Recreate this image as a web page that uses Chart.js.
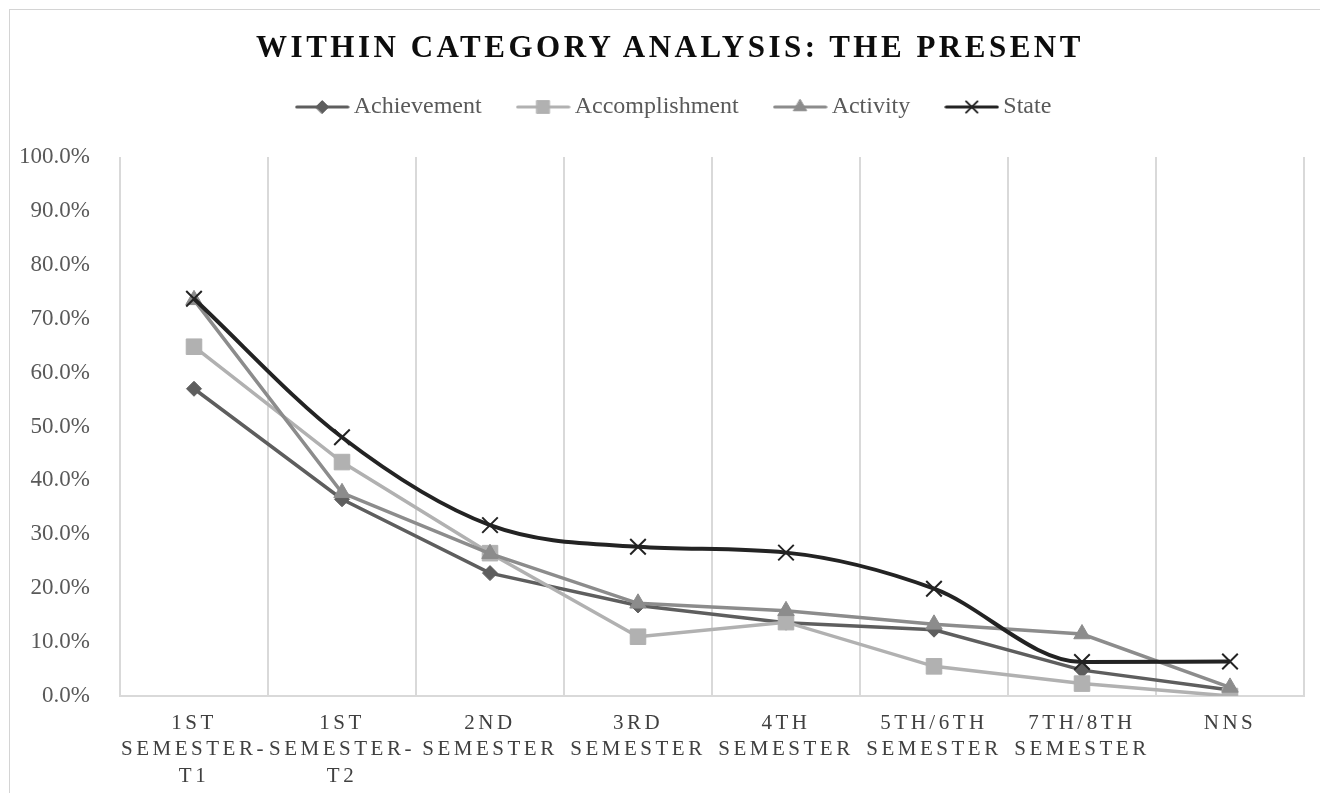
<!DOCTYPE html>
<html>
<head>
<meta charset="utf-8">
<script src="https://cdn.jsdelivr.net/npm/chart.js@4/dist/chart.umd.min.js"></script>
<style>
  html, body { margin: 0; padding: 0; background: #fff; }
  #wrap { position: relative; width: 1320px; height: 793px; overflow: hidden; }
  #frame { position: absolute; left: 9px; top: 9px; width: 1330px; height: 820px; border: 1px solid #d4d4d4; box-sizing: border-box; }
  #title { position: absolute; left: 18px; top: 27px; width: 1304px; text-align: center;
    font: bold 31px "Liberation Serif", "Times New Roman", serif; line-height: 40px;
    letter-spacing: 3.5px; color: #0d0d0d; }
  canvas { position: absolute; left: 0; top: 0; }
</style>
</head>
<body>
<div id="wrap">
  <div id="frame"></div>
  <canvas id="chart" width="1320" height="793"></canvas>
  <div id="title">WITHIN CATEGORY ANALYSIS: THE PRESENT</div>
</div>
<script>
const categories = [
  ['1ST', 'SEMESTER-', 'T1'],
  ['1ST', 'SEMESTER-', 'T2'],
  ['2ND', 'SEMESTER'],
  ['3RD', 'SEMESTER'],
  ['4TH', 'SEMESTER'],
  ['5TH/6TH', 'SEMESTER'],
  ['7TH/8TH', 'SEMESTER'],
  ['NNS']
]
const achievement = [57.0, 36.5, 22.8, 16.8, 13.6, 12.3, 4.8, 1.1]
const accomplishment = [64.8, 43.4, 26.5, 11.0, 13.7, 5.5, 2.3, 0.0]
const activity = [73.5, 37.7, 26.4, 17.2, 15.8, 13.3, 11.5, 1.6]
const state = [73.7, 48.0, 31.7, 27.7, 26.6, 19.9, 6.3, 6.4]
const yTicks = [0, 10, 20, 30, 40, 50, 60, 70, 80, 90, 100]

const serif = '"Liberation Serif", "Times New Roman", serif'

// x軸ラベルに字間を付けるためのカテゴリ軸
class SpacedCategory extends Chart.CategoryScale {
  static id = 'spacedCategory'
  drawLabels(area) {
    const ctx = this.ctx
    ctx.save()
    ctx.letterSpacing = '3.5px'
    super.drawLabels(area)
    ctx.restore()
  }
}
Chart.register(SpacedCategory)

// 凡例用アイコン（線＋マーカー）
function legendIcon(color, style, r, bw) {
  const c = document.createElement('canvas')
  c.width = 55
  c.height = 22
  const ctx = c.getContext('2d')
  ctx.strokeStyle = color
  ctx.fillStyle = color
  ctx.lineWidth = 3.2
  ctx.lineCap = 'round'
  ctx.beginPath()
  ctx.moveTo(2, 11)
  ctx.lineTo(53, 11)
  ctx.stroke()
  ctx.lineWidth = bw
  Chart.helpers.drawPoint(ctx, { pointStyle: style, radius: r, borderWidth: bw, rotation: 0 }, 27.5, 11)
  return c
}

const series = [
  { label: 'Achievement', data: achievement, color: '#5e5e5e', style: 'rectRot', r: 7.5, lr: 6.5, bw: 1, width: 3.5, order: 4 },
  { label: 'Accomplishment', data: accomplishment, color: '#b1b1b1', style: 'rect', r: 11, lr: 9, bw: 1, width: 3.5, order: 3 },
  { label: 'Activity', data: activity, color: '#8c8c8c', style: 'triangle', r: 9.5, lr: 7.5, bw: 1, width: 3.5, order: 2 },
  { label: 'State', data: state, color: '#232323', style: 'crossRot', r: 11, lr: 8, bw: 2, width: 4, order: 1, smooth: true }
]

// 凡例の下に余白を足し、少し右へずらす
const legendSpacer = {
  id: 'legendSpacer',
  beforeInit(chart) {
    const fit = chart.legend.fit
    chart.legend.fit = function () {
      fit.call(this)
      this.height += 28
    }
    const draw = chart.legend.draw
    chart.legend.draw = function () {
      const ctx = this.ctx
      ctx.save()
      ctx.translate(20, 0)
      draw.call(this)
      ctx.restore()
    }
  }
}

new Chart(document.getElementById('chart'), {
  type: 'line',
  data: {
    labels: categories,
    datasets: series.map(s => ({
      label: s.label,
      data: s.data,
      borderColor: s.color,
      backgroundColor: s.color,
      borderWidth: s.width,
      pointStyle: s.style,
      pointRadius: s.r,
      pointBorderWidth: s.bw,
      pointBackgroundColor: s.color,
      pointBorderColor: s.color,
      cubicInterpolationMode: s.smooth ? 'monotone' : 'default',
      tension: 0,
      order: s.order,
      fill: false
    }))
  },
  options: {
    responsive: false,
    animation: false,
    layout: { padding: { left: 10, right: 16, top: 53, bottom: 0 } },
    plugins: {
      title: { display: false },
      tooltip: { enabled: false },
      legend: {
        position: 'top',
        labels: {
          usePointStyle: true,
          pointStyleWidth: 39,
          padding: 42,
          color: '#595959',
          font: { family: serif, size: 24 },
          generateLabels: () => series.map((s, i) => ({
            text: s.label,
            pointStyle: legendIcon(s.color, s.style, s.lr, s.bw),
            fillStyle: s.color,
            strokeStyle: s.color,
            lineWidth: 0,
            fontColor: '#595959',
            hidden: false,
            datasetIndex: i
          }))
        }
      }
    },
    scales: {
      x: {
        type: 'spacedCategory',
        offset: true,
        afterFit(s) { s.height = 97 },
        grid: { display: true, offset: true, color: '#d9d9d9', lineWidth: 2, drawTicks: false },
        border: { display: true, color: '#d9d9d9', width: 2 },
        ticks: {
          autoSkip: false,
          maxRotation: 0,
          minRotation: 0,
          padding: 14,
          color: '#404040',
          font: { family: serif, size: 21, lineHeight: 1.26 }
        }
      },
      y: {
        min: 0,
        max: 100,
        afterFit(s) { s.width = 110 },
        afterBuildTicks(s) { s.ticks = yTicks.map(v => ({ value: v })) },
        grid: { display: false },
        border: { display: false },
        ticks: {
          padding: 22,
          color: '#595959',
          font: { family: serif, size: 23 },
          callback: v => v.toFixed(1) + '%'
        }
      }
    }
  },
  plugins: [legendSpacer]
})
</script>
</body>
</html>
